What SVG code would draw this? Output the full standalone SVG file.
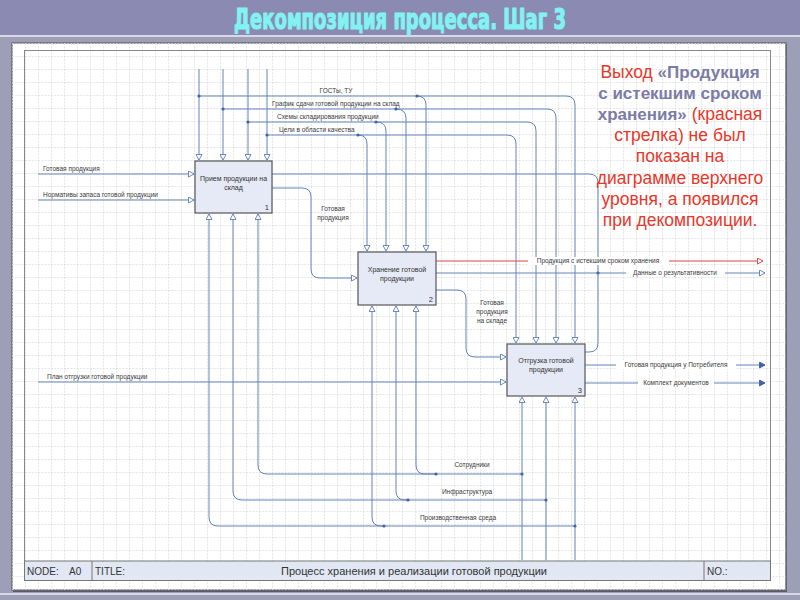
<svg xmlns="http://www.w3.org/2000/svg" width="800" height="600" viewBox="0 0 800 600">
<defs>
<pattern id="grid" x="12" y="43" width="13" height="13" patternUnits="userSpaceOnUse">
<path d="M0,0.5 H13 M0.5,0 V13" fill="none" stroke="#dadada" stroke-width="0.7" stroke-dasharray="2,1.2"/>
</pattern>
<marker id="ao" markerWidth="7" markerHeight="7" refX="6" refY="3.5" orient="auto" markerUnits="userSpaceOnUse">
<path d="M0.5,0.5 L6,3.5 L0.5,6.5 Z" fill="#fff" stroke="#5d7db5" stroke-width="0.9"/>
</marker>
<marker id="ar" markerWidth="7" markerHeight="7" refX="6" refY="3.5" orient="auto" markerUnits="userSpaceOnUse">
<path d="M0.5,0.5 L6,3.5 L0.5,6.5 Z" fill="#fff" stroke="#e04040" stroke-width="0.9"/>
</marker>
<marker id="af" markerWidth="7" markerHeight="7" refX="6" refY="3.5" orient="auto" markerUnits="userSpaceOnUse">
<path d="M0.5,0.5 L6,3.5 L0.5,6.5 Z" fill="#3f63a8" stroke="#3f63a8" stroke-width="0.9"/>
</marker>
</defs>
<style>
.ln{fill:none;stroke:#6483b8;stroke-width:1}
.red{fill:none;stroke:#e04444;stroke-width:1}
.dot{fill:#3f63a8}
.box{fill:#e6eaf6;stroke:#555;stroke-width:1.2}
.bt{font-family:"Liberation Sans",Arial,sans-serif;font-size:7px;fill:#333;text-anchor:middle}
.num{font-family:"Liberation Sans",Arial,sans-serif;font-size:7.5px;fill:#333;text-anchor:end}
.lb{font-family:"Liberation Sans",Arial,sans-serif;font-size:6.5px;fill:#3a3a3a}
.lbc{font-family:"Liberation Sans",Arial,sans-serif;font-size:6.5px;fill:#3a3a3a;text-anchor:middle}
.tb{font-family:"Liberation Sans",Arial,sans-serif;font-size:10px;fill:#333}
.note{font-family:"Liberation Sans",Arial,sans-serif;font-size:17.5px;fill:#e8372a;text-anchor:middle}
.nb{fill:#7a7ca6;font-weight:bold;font-size:17px}
</style>
<rect x="0" y="0" width="800" height="600" fill="#9c9fb6"/>
<rect x="0" y="0" width="800" height="35" fill="#8a8ab2"/>
<rect x="0" y="35" width="800" height="2" fill="#d8d8e8"/>
<rect x="0" y="593" width="800" height="2" fill="#d8d8e8"/>
<text x="400" y="29" text-anchor="middle" font-family="'DejaVu Sans Condensed','Liberation Sans Narrow','Liberation Sans',sans-serif" font-weight="bold" font-size="29" fill="#82f2f2" stroke="#82f2f2" stroke-width="1.2" stroke-linejoin="round" textLength="332" lengthAdjust="spacingAndGlyphs">Декомпозиция процесса. Шаг 3</text>
<rect x="13" y="44" width="774" height="548" fill="#5a5a68"/>
<rect x="12" y="43" width="774" height="547" fill="#fff" stroke="#6a6a78" stroke-width="1.5"/>
<rect x="12" y="43" width="774" height="547" fill="url(#grid)"/>
<rect x="24.5" y="50.5" width="746" height="530" fill="none" stroke="#888" stroke-width="1"/>

<g id="title-block">
<rect x="24.5" y="561" width="746" height="19.5" fill="#e1e8f4" stroke="#777" stroke-width="1"/>
<line x1="92" y1="561" x2="92" y2="580.5" stroke="#777"/>
<line x1="704" y1="561" x2="704" y2="580.5" stroke="#777"/>
<text class="tb" x="27" y="575">NODE:</text>
<text class="tb" x="69" y="575">A0</text>
<text class="tb" x="95" y="575">TITLE:</text>
<text class="tb" x="414" y="575" text-anchor="middle" textLength="266" lengthAdjust="spacingAndGlyphs">Процесс хранения и реализации готовой продукции</text>
<text class="tb" x="707" y="575">NO.:</text>
</g>

<g id="connectors">
<path class="ln" d="M199,69 V160" marker-end="url(#ao)"/>
<path class="ln" d="M223,69 V160" marker-end="url(#ao)"/>
<path class="ln" d="M248,69 V160" marker-end="url(#ao)"/>
<path class="ln" d="M267,69 V160" marker-end="url(#ao)"/>
<path class="ln" d="M199,96 H566 Q575,96 575,105 V343" marker-end="url(#ao)"/>
<path class="ln" d="M417,96 Q426,96 426,105 V251" marker-end="url(#ao)"/>
<path class="ln" d="M223,109 H547 Q556,109 556,118 V343" marker-end="url(#ao)"/>
<path class="ln" d="M396,109 Q406,109 406,118 V251" marker-end="url(#ao)"/>
<path class="ln" d="M248,122 H527 Q536,122 536,131 V343" marker-end="url(#ao)"/>
<path class="ln" d="M376,122 Q386,122 386,131 V251" marker-end="url(#ao)"/>
<path class="ln" d="M267,135 H507 Q516,135 516,144 V343" marker-end="url(#ao)"/>
<path class="ln" d="M358,135 Q367,135 367,144 V251" marker-end="url(#ao)"/>
<circle class="dot" cx="199" cy="96" r="1.6"/>
<circle class="dot" cx="417" cy="96" r="1.6"/>
<circle class="dot" cx="223" cy="109" r="1.6"/>
<circle class="dot" cx="396" cy="109" r="1.6"/>
<circle class="dot" cx="248" cy="122" r="1.6"/>
<circle class="dot" cx="376" cy="122" r="1.6"/>
<circle class="dot" cx="267" cy="135" r="1.6"/>
<circle class="dot" cx="358" cy="135" r="1.6"/>
<path class="ln" d="M38,174 H194" marker-end="url(#ao)"/>
<path class="ln" d="M38,200 H194" marker-end="url(#ao)"/>
<path class="ln" d="M38,382 H506" marker-end="url(#ao)"/>
<path class="ln" d="M272,174 H589 Q598,174 598,183 V273"/>
<path class="ln" d="M272,188 H302 Q311,188 311,197 V269 Q311,278 320,278 H357" marker-end="url(#ao)"/>
<path class="red" d="M436,261 H763" marker-end="url(#ar)"/>
<path class="ln" d="M436,273 H765" marker-end="url(#ao)"/>
<circle class="dot" cx="598" cy="273" r="1.6"/>
<path class="ln" d="M436,290 H457 Q466,290 466,299 V348 Q466,357 475,357 H506" marker-end="url(#ao)"/>
<path class="ln" d="M585,352 H589 Q598,352 598,343 V273"/>
<path class="ln" d="M585,365 H765" marker-end="url(#af)"/>
<path class="ln" d="M585,383 H765" marker-end="url(#af)"/>
<path class="ln" d="M522,560 V397" marker-end="url(#ao)"/>
<path class="ln" d="M546,560 V397" marker-end="url(#ao)"/>
<path class="ln" d="M575,560 V397" marker-end="url(#ao)"/>
<path class="ln" d="M522,474 H267 Q258,474 258,465 V214" marker-end="url(#ao)"/>
<path class="ln" d="M436,474 H425 Q416,474 416,465 V306" marker-end="url(#ao)"/>
<path class="ln" d="M546,500 H242 Q233,500 233,491 V214" marker-end="url(#ao)"/>
<path class="ln" d="M408,500 H405 Q396,500 396,491 V306" marker-end="url(#ao)"/>
<path class="ln" d="M575,526 H218 Q209,526 209,517 V214" marker-end="url(#ao)"/>
<path class="ln" d="M384,526 H381 Q372,526 372,517 V306" marker-end="url(#ao)"/>
<circle class="dot" cx="522" cy="474" r="1.6"/>
<circle class="dot" cx="436" cy="474" r="1.6"/>
<circle class="dot" cx="546" cy="500" r="1.6"/>
<circle class="dot" cx="408" cy="500" r="1.6"/>
<circle class="dot" cx="575" cy="526" r="1.6"/>
<circle class="dot" cx="384" cy="526" r="1.6"/>
</g>

<g id="labels">
<text class="lbc" x="336" y="93">ГОСТы, ТУ</text>
<text class="lb" x="272" y="106">График сдачи готовой продукции на склад</text>
<text class="lb" x="277" y="119">Схемы складирования продукции</text>
<text class="lb" x="279" y="132">Цели в области качества</text>
<text class="lb" x="43" y="171">Готовая продукция</text>
<text class="lb" x="43" y="197">Нормативы запаса готовой продукции</text>
<text class="lb" x="47" y="379">План отгрузки готовой продукции</text>
<text class="lbc" x="333" y="211">Готовая</text>
<text class="lbc" x="333" y="220">продукция</text>
<rect x="528" y="257" width="141" height="8" fill="#fff"/>
<text class="lbc" x="598" y="263">Продукция с истекшим сроком хранения</text>
<rect x="626" y="269" width="99" height="8" fill="#fff"/>
<text class="lbc" x="675" y="275">Данные о результативности</text>
<text class="lbc" x="492" y="305">Готовая</text>
<text class="lbc" x="492" y="314">продукция</text>
<text class="lbc" x="492" y="323">на складе</text>
<rect x="616" y="361" width="120" height="8" fill="#fff"/>
<text class="lbc" x="676" y="367">Готовая продукция у Потребителя</text>
<rect x="638" y="379" width="76" height="8" fill="#fff"/>
<text class="lbc" x="676" y="385">Комплект документов</text>
<text class="lbc" x="472" y="467">Сотрудники</text>
<text class="lbc" x="467" y="494">Инфраструктура</text>
<text class="lbc" x="458" y="520">Производственная среда</text>
</g>

<g id="box1">
<rect class="box" x="195" y="161" width="77" height="52"/>
<text class="bt" x="233.5" y="181">Прием продукции на</text>
<text class="bt" x="233.5" y="190">склад</text>
<text class="num" x="269" y="210">1</text>
</g>
<g id="box2">
<rect class="box" x="358" y="252" width="78" height="53"/>
<text class="bt" x="397" y="272">Хранение готовой</text>
<text class="bt" x="397" y="281">продукции</text>
<text class="num" x="433" y="302">2</text>
</g>
<g id="box3">
<rect class="box" x="507" y="344" width="78" height="52"/>
<text class="bt" x="546" y="363">Отгрузка готовой</text>
<text class="bt" x="546" y="372">продукции</text>
<text class="num" x="582" y="393">3</text>
</g>

<g id="note">
<text class="note" x="680" y="78">Выход <tspan class="nb">«Продукция</tspan></text>
<text class="note" x="680" y="99"><tspan class="nb">с истекшим сроком</tspan></text>
<text class="note" x="680" y="120"><tspan class="nb">хранения»</tspan> (красная</text>
<text class="note" x="680" y="141">стрелка) не был</text>
<text class="note" x="680" y="162">показан на</text>
<text class="note" x="680" y="184">диаграмме верхнего</text>
<text class="note" x="680" y="205">уровня, а появился</text>
<text class="note" x="680" y="226">при декомпозиции.</text>
</g>
</svg>
